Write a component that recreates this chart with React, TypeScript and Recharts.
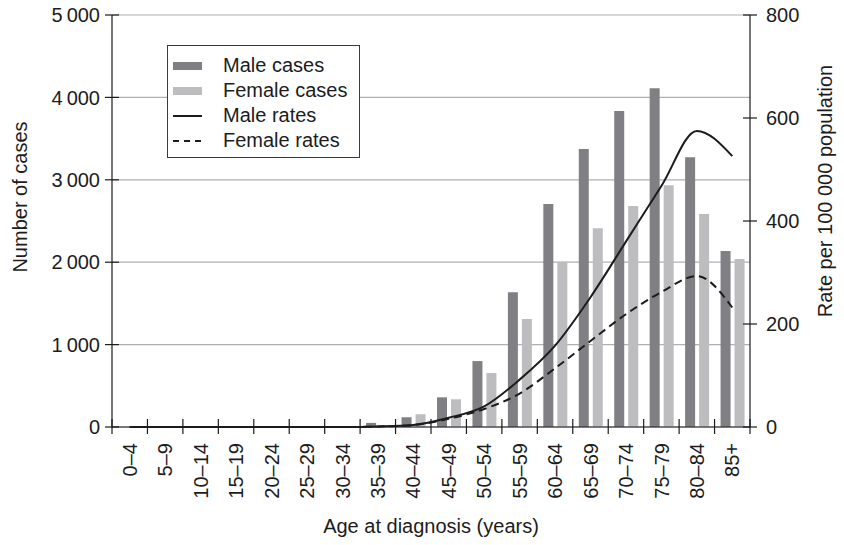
import { ComposedChart, Bar, Line, XAxis, YAxis, CartesianGrid, Legend } from 'recharts';

const ageGroups = ['0–4', '5–9', '10–14', '15–19', '20–24', '25–29', '30–34', '35–39', '40–44', '45–49', '50–54', '55–59', '60–64', '65–69', '70–74', '75–79', '80–84', '85+'];
const maleCases = [0, 0, 0, 0, 0, 0, 4, 50, 118, 360, 800, 1635, 2705, 3375, 3835, 4110, 3275, 2135];
const femaleCases = [0, 0, 0, 0, 0, 0, 2, 8, 155, 336, 655, 1310, 2005, 2412, 2682, 2935, 2585, 2038];
const maleRates = [0, 0, 0, 0, 0, 0, 0, 1, 4, 18, 40, 92, 158, 252, 360, 468, 575, 526];
const femaleRates = [0, 0, 0, 0, 0, 0, 0, 1, 4, 16, 35, 65, 114, 167, 219, 262, 293, 232];
const caseTicks = [0, 1000, 2000, 3000, 4000, 5000];
const rateTicks = [0, 200, 400, 600, 800];

const data = ageGroups.map((age, i) => ({
    age,
    maleCases: maleCases[i],
    femaleCases: femaleCases[i],
    maleRates: maleRates[i],
    femaleRates: femaleRates[i],
}));

const FONT = '"Liberation Sans", Arial, sans-serif';
const INK = '#1c1c1c';
const MALE_BAR = '#808084';
const FEMALE_BAR = '#bdbdc0';

const W = 844;
const H = 545;
const LEFT_W = 112;
const RIGHT_W = 94;
const BAND = (W - LEFT_W - RIGHT_W) / ageGroups.length;

const fmt = (v: number) => String(v).replace(/\B(?=(\d{3})+(?!\d))/g, '\u2009');

const LeftTick = ({ x, y, payload }: any) => (
    <g>
        <line x1={x - 7} x2={x + 7} y1={y} y2={y} stroke={INK} strokeWidth={1.2} />
        <text x={x - 12} y={y} dy="0.36em" textAnchor="end" fontSize={20} fontFamily={FONT} fill={INK}>
            {fmt(payload.value)}
        </text>
    </g>
);

const RightTick = ({ x, y, payload }: any) => (
    <g>
        <line x1={x - 7} x2={x + 7} y1={y} y2={y} stroke={INK} strokeWidth={1.2} />
        <text x={x + 16} y={y} dy="0.36em" textAnchor="start" fontSize={20} fontFamily={FONT} fill={INK}>
            {payload.value}
        </text>
    </g>
);

const AgeTick = ({ x, y, payload, index }: any) => {
    const edge = x - BAND / 2;
    return (
        <g>
            <line x1={edge} x2={edge} y1={y - 8} y2={y + 7} stroke={INK} strokeWidth={1.2} />
            {index === ageGroups.length - 1 && (
                <line x1={x + BAND / 2} x2={x + BAND / 2} y1={y - 8} y2={y + 7} stroke={INK} strokeWidth={1.2} />
            )}
            <text
                x={x}
                y={y + 16}
                dy="0.36em"
                textAnchor="end"
                transform={`rotate(-90, ${x}, ${y + 16})`}
                fontSize={20}
                fontFamily={FONT}
                fill={INK}
            >
                {payload.value}
            </text>
        </g>
    );
};

const legendItems = [
    { label: 'Male cases', kind: 'bar', color: MALE_BAR },
    { label: 'Female cases', kind: 'bar', color: FEMALE_BAR },
    { label: 'Male rates', kind: 'line', dash: undefined },
    { label: 'Female rates', kind: 'line', dash: '6 5' },
];

const LegendBox = () => (
    <div
        style={{
            border: '1px solid #3a3a3a',
            background: '#fff',
            width: 191,
            padding: '7px 0 4px 0',
            fontFamily: FONT,
            fontSize: 20,
            color: INK,
        }}
    >
        {legendItems.map((it) => (
            <div key={it.label} style={{ display: 'flex', alignItems: 'center', height: 25, lineHeight: '25px' }}>
                <svg width={35} height={10} style={{ marginLeft: 5, marginRight: 15 }}>
                    {it.kind === 'bar' ? (
                        <rect x={0} y={1} width={29} height={8} fill={it.color} />
                    ) : (
                        <line x1={0} x2={29} y1={5} y2={5} stroke={INK} strokeWidth={2} strokeDasharray={it.dash} />
                    )}
                </svg>
                <span>{it.label}</span>
            </div>
        ))}
    </div>
);

export default function App() {
    return (
        <div style={{ position: 'absolute', left: 0, top: 0, width: W, height: H, background: '#fff' }}>
            <ComposedChart width={W} height={H} data={data} margin={{ top: 15, right: 0, left: 0, bottom: 0 }}>
                <CartesianGrid yAxisId="cases" vertical={false} stroke="#b0b0b0" strokeWidth={1.2} />
                <XAxis
                    dataKey="age"
                    height={118}
                    interval={0}
                    tickLine={false}
                    tickSize={0}
                    tickMargin={0}
                    axisLine={{ stroke: INK, strokeWidth: 1.2 }}
                    tick={<AgeTick />}
                    label={() => (
                        <text x={431} y={533} textAnchor="middle" fontSize={20} fontFamily={FONT} fill={INK}>
                            Age at diagnosis (years)
                        </text>
                    )}
                />
                <YAxis
                    yAxisId="cases"
                    width={LEFT_W}
                    domain={[0, 5000]}
                    ticks={caseTicks}
                    tickLine={false}
                    tickSize={0}
                    tickMargin={0}
                    axisLine={{ stroke: INK, strokeWidth: 1.2 }}
                    tick={<LeftTick />}
                    label={() => (
                        <text
                            x={20}
                            y={197}
                            textAnchor="middle"
                            dy="0.36em"
                            transform="rotate(-90, 20, 197)"
                            fontSize={20}
                            fontFamily={FONT}
                            fill={INK}
                        >
                            Number of cases
                        </text>
                    )}
                />
                <YAxis
                    yAxisId="rates"
                    orientation="right"
                    width={RIGHT_W}
                    domain={[0, 800]}
                    ticks={rateTicks}
                    tickLine={false}
                    tickSize={0}
                    tickMargin={0}
                    axisLine={{ stroke: INK, strokeWidth: 1.2 }}
                    tick={<RightTick />}
                    label={() => (
                        <text
                            x={825}
                            y={191}
                            textAnchor="middle"
                            dy="0.36em"
                            transform="rotate(-90, 825, 191)"
                            fontSize={20}
                            fontFamily={FONT}
                            fill={INK}
                        >
                            Rate per 100 000 population
                        </text>
                    )}
                />
                <Legend
                    layout="vertical"
                    align="center"
                    verticalAlign="middle"
                    content={<LegendBox />}
                    wrapperStyle={{ left: 167, top: 45, width: 193 }}
                />
                <Bar yAxisId="cases" dataKey="maleCases" name="Male cases" fill={MALE_BAR} barSize={10} isAnimationActive={false} />
                <Bar yAxisId="cases" dataKey="femaleCases" name="Female cases" fill={FEMALE_BAR} barSize={10} isAnimationActive={false} />
                <Line
                    yAxisId="rates"
                    type="monotone"
                    dataKey="maleRates"
                    name="Male rates"
                    stroke={INK}
                    strokeWidth={2}
                    dot={false}
                    activeDot={false}
                    isAnimationActive={false}
                />
                <Line
                    yAxisId="rates"
                    type="monotone"
                    dataKey="femaleRates"
                    name="Female rates"
                    stroke={INK}
                    strokeWidth={2}
                    strokeDasharray="8 5"
                    dot={false}
                    activeDot={false}
                    isAnimationActive={false}
                />
            </ComposedChart>
        </div>
    );
}
